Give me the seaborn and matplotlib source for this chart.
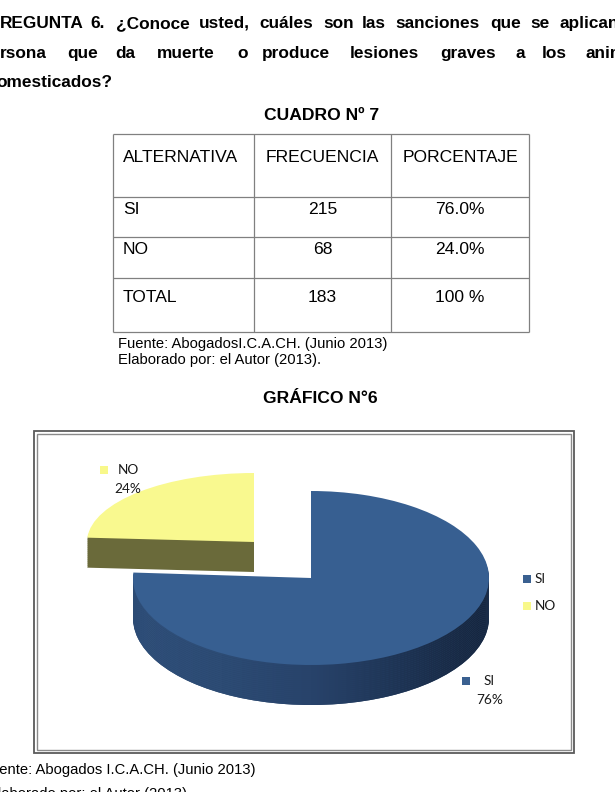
import numpy as np
import matplotlib
matplotlib.use("Agg")
import matplotlib.pyplot as plt
from matplotlib.colors import LinearSegmentedColormap
import seaborn as sns

# ---------------- data ----------------
pregunta_l1 = ["REGUNTA", "6.", "¿Conoce", "usted,", "cuáles", "son", "las",
               "sanciones", "que", "se", "aplican"]
pregunta_l2 = ["rsona", "que", "da", "muerte", "o", "produce", "lesiones",
               "graves", "a", "los", "animales"]
pregunta_l3 = "omesticados?"
cuadro_titulo = "CUADRO Nº 7"
grafico_titulo = "GRÁFICO N°6"
table_header = ["ALTERNATIVA", "FRECUENCIA", "PORCENTAJE"]
alternativas = ["SI", "NO", "TOTAL"]
frecuencias = ["215", "68", "183"]
porcentajes = ["76.0%", "24.0%", "100 %"]
fuente_tabla = ["Fuente: AbogadosI.C.A.CH. (Junio 2013)", "Elaborado por: el Autor (2013)."]
fuente_grafico = ["Fuente: Abogados I.C.A.CH. (Junio 2013)", "Elaborado por: el Autor (2013)."]
pie_labels = ["SI", "NO"]
pie_values = [76, 24]

# ---------------- layout ----------------
W, H = 615, 792
l1_x = [0, 90, 116, 199, 259, 323, 362, 395, 490, 530, 560]
l2_x = [0, 67, 115, 157, 237, 262, 350, 440, 515, 542, 585]

sns.set_theme(style="white")
plt.rcParams['font.family'] = ['Liberation Sans', 'DejaVu Sans']

fig = plt.figure(figsize=(W / 100, H / 100), dpi=100)
fig.patch.set_facecolor("white")
ax = fig.add_axes([0, 0, 1, 1])
ax.set_xlim(0, W)
ax.set_ylim(H, 0)
ax.axis("off")
ax.set_zorder(5)

PAGE = dict(family=['Liberation Sans', 'DejaVu Sans'], color="black")
HFS = 12.4
for w, x in zip(pregunta_l1, l1_x):
    ax.text(x, 28, w, fontsize=HFS, fontweight="bold", va="baseline", ha="left", **PAGE)
for w, x in zip(pregunta_l2, l2_x):
    ax.text(x, 58, w, fontsize=HFS, fontweight="bold", va="baseline", ha="left", **PAGE)
ax.text(-4, 87, pregunta_l3, fontsize=HFS, fontweight="bold", va="baseline", ha="left", **PAGE)

# table
ax.text(322, 120, cuadro_titulo, fontsize=12.6, fontweight="bold", va="baseline", ha="center", **PAGE)
col_edges = [113, 254, 391, 529]
row_edges = [134, 197, 237, 278, 332]
ax.hlines(row_edges, col_edges[0], col_edges[-1], color="#808080", lw=0.9)
ax.vlines(col_edges, row_edges[0], row_edges[-1], color="#808080", lw=0.9)
col_c = [(col_edges[i] + col_edges[i + 1]) / 2 for i in range(3)]
TFS = 12.6
ax.text(123, 162, table_header[0], fontsize=TFS, va="baseline", ha="left", **PAGE)
ax.text(col_c[1], 162, table_header[1], fontsize=TFS, va="baseline", ha="center", **PAGE)
ax.text(col_c[2], 162, table_header[2], fontsize=TFS, va="baseline", ha="center", **PAGE)
row_base = [214, 254, 302]
for alt, fr, pc, yb in zip(alternativas, frecuencias, porcentajes, row_base):
    ax.text(123, yb, alt, fontsize=TFS, va="baseline", ha="left", **PAGE)
    ax.text(col_c[1], yb, fr, fontsize=TFS, va="baseline", ha="center", **PAGE)
    ax.text(col_c[2], yb, pc, fontsize=TFS, va="baseline", ha="center", **PAGE)
ax.text(118, 348, fuente_tabla[0], fontsize=10.6, va="baseline", ha="left", **PAGE)
ax.text(118, 364, fuente_tabla[1], fontsize=10.6, va="baseline", ha="left", **PAGE)

# chart title and frame
ax.text(320, 403, grafico_titulo, fontsize=12.6, fontweight="bold", va="baseline", ha="center", **PAGE)
ax.add_patch(plt.Rectangle((34, 431), 540, 322, fill=False, ec="#5a5a5a", lw=1.3, zorder=5))
ax.add_patch(plt.Rectangle((37, 434), 534, 316, fill=False, ec="#8a8a8a", lw=1.0, zorder=5))

# bottom sources
ax.text(-18, 774, fuente_grafico[0], fontsize=10.6, va="baseline", ha="left", **PAGE)
ax.text(-12, 798, fuente_grafico[1], fontsize=10.6, va="baseline", ha="left", **PAGE)

# ---------------- 3D-looking pie ----------------
si_top, no_top = "#375F91", "#F9F98F"
si_side, no_side = "#284469", "#6A6A3A"
side_cmap = LinearSegmentedColormap.from_list(
    "side", ["#30507B", "#2D4C75", "#28436B", "#1E3454", "#16253D"])
grad = np.linspace(0, 1, 256)[None, :]


def pie_axes(cx, cy, a, b, depth, keep, top_col, side_col, gradient=False):
    """Extruded pie in its own axes; only wedge `keep` is shown
    (the exploded back slice is smaller, as in the perspective view)."""
    k = a / b
    cyd = (H - cy) * k
    axp = fig.add_axes([0, 0, 1, 1])
    axp.patch.set_visible(False)
    for off in list(range(depth, 0, -2)) + [0]:
        c = (cx, cyd - off * k)
        wedges, _ = axp.pie(pie_values, startangle=90, counterclock=False,
                            radius=a, center=c,
                            colors=[top_col if off == 0 else side_col] * 2,
                            wedgeprops=dict(linewidth=0))
        for j, wdg in enumerate(wedges):
            wdg.set_zorder(1)
            if j != keep:
                wdg.set_visible(False)
        if gradient and off > 0:
            im = axp.imshow(grad, cmap=side_cmap,
                            extent=(cx - a, cx + a, c[1] - a, c[1] + a),
                            aspect="auto", interpolation="bilinear", zorder=1)
            im.set_clip_path(wedges[keep])
    axp.set_aspect("auto")
    axp.set_xlim(0, W)
    axp.set_ylim(0, H * k)
    axp.axis("off")
    return axp


# NO slice (exploded to the back-left, further away -> smaller)
pie_axes(254, 542, 167, 69, 30, 1, no_top, no_side)
# SI slice (front)
pie_axes(311, 578, 178, 87, 40, 0, si_top, si_side, gradient=True)

# data labels and legend
LBL = dict(family=['Lato', 'DejaVu Sans'], color="#1a1a1a", fontsize=9.8)
sq_cols = ["#3A6090", "#F8F88A"]
ax.scatter([466], [681], marker="s", s=30, color=sq_cols[0], linewidths=0, zorder=6)
ax.text(489, 681, pie_labels[0], ha="center", va="center", **LBL)
ax.text(490, 700, f"{pie_values[0]}%", ha="center", va="center", **LBL)
ax.scatter([104], [470], marker="s", s=30, color=sq_cols[1], linewidths=0, zorder=6)
ax.text(128, 470, pie_labels[1], ha="center", va="center", **LBL)
ax.text(128, 489, f"{pie_values[1]}%", ha="center", va="center", **LBL)

for lab, col, yy in zip(pie_labels, sq_cols, [579, 606]):
    ax.scatter([527], [yy], marker="s", s=30, color=col, linewidths=0, zorder=6)
    ax.text(535, yy, lab, ha="left", va="center", **LBL)

fig.savefig("out.png", dpi=100)
